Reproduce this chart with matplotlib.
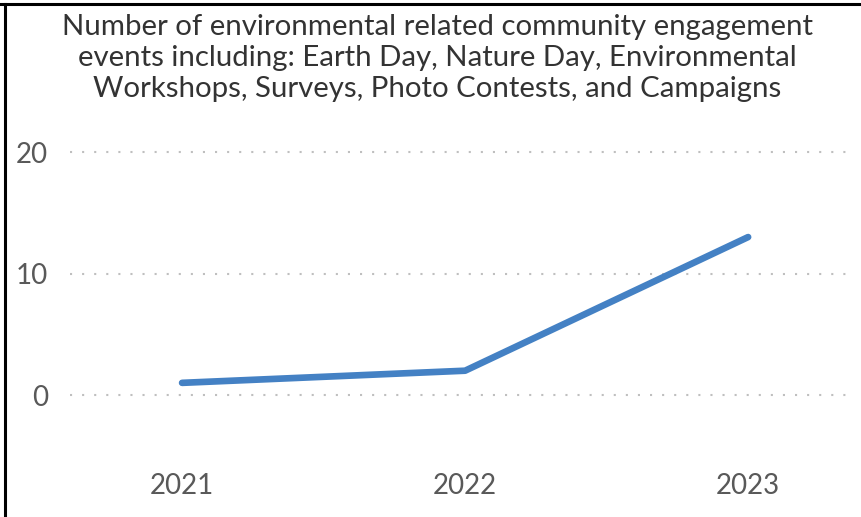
"""Line chart of environmental community engagement events per year"""

import matplotlib
matplotlib.use('Agg')
import matplotlib.pyplot as plt
from matplotlib.lines import Line2D

years = ['2021', '2022', '2023']
events = [1, 2, 13]
yticks = [0, 10, 20]

title = ('Number of environmental related community engagement\n'
         'events including: Earth Day, Nature Day, Environmental\n'
         'Workshops, Surveys, Photo Contests, and Campaigns')

plt.rcParams['font.family'] = ['Lato', 'DejaVu Sans']

W, H = 861, 517
fig = plt.figure(figsize=(W / 100, H / 100), dpi=100)

# plot area, in pixels from the top-left corner
left, right, top, bottom = 70, 852, 140, 460
ax = fig.add_axes([left / W, (H - bottom) / H, (right - left) / W, (bottom - top) / H])

x = list(range(len(years)))
ax.plot(x, events, color='#4481C4', lw=4.8, solid_capstyle='round',
        solid_joinstyle='round', zorder=3)

ax.set_xlim(-0.396, 2.367)
ax.set_ylim(-5.35, 20.99)
ax.set_xticks(x, years)
ax.set_yticks(yticks)
for v in yticks:
    ax.axhline(v, color='#BFBFBF', lw=1.5, linestyle=(0, (1, 4.8)), zorder=1)

for s in ax.spines.values():
    s.set_visible(False)
ax.tick_params(axis='both', length=0, labelsize=20, labelcolor='#595959')
ax.tick_params(axis='x', pad=9)
ax.tick_params(axis='y', pad=16)

fig.text(437 / W, 1 - 14 / H, title, ha='center', va='top', fontsize=21.2,
         color='#333333', linespacing=1.25)

# frame lines along the top and left edges
fig.add_artist(Line2D([0, 1], [1 - 4 / H, 1 - 4 / H], transform=fig.transFigure,
                      color='black', lw=2.2))
fig.add_artist(Line2D([4.5 / W, 4.5 / W], [0, 1 - 4 / H], transform=fig.transFigure,
                      color='black', lw=2.2))

fig.savefig('out.png', dpi=100)
